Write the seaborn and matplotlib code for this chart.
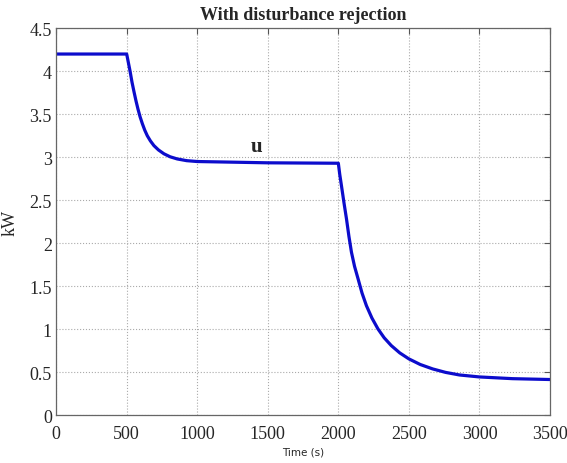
import matplotlib
matplotlib.use("Agg")
import matplotlib.pyplot as plt
import seaborn as sns
import pandas as pd

# values
time_s = [0, 500, 512, 524, 538, 552, 566, 580, 595, 611, 628, 646, 668, 693,
          725, 764, 808, 858, 925, 1000, 1500, 2000,
          2010, 2022, 2040, 2058, 2075, 2093, 2115, 2140, 2168, 2199, 2238, 2281,
          2325, 2375, 2435, 2500, 2580, 2669, 2760, 2858, 3000, 3234, 3500]
u_kw = [4.2, 4.2, 4.1, 4.0, 3.87, 3.76, 3.655, 3.56, 3.47, 3.39, 3.315, 3.25,
        3.19, 3.135, 3.085, 3.04, 3.005, 2.98, 2.96, 2.95, 2.935, 2.93,
        2.80, 2.67, 2.47, 2.28, 2.08, 1.895, 1.73, 1.585, 1.42, 1.274, 1.13, 1.003,
        0.9, 0.81, 0.725, 0.655, 0.59, 0.538, 0.498, 0.468, 0.445, 0.425, 0.415]
x_ticks = [0, 500, 1000, 1500, 2000, 2500, 3000, 3500]
y_ticks = [0, 0.5, 1, 1.5, 2, 2.5, 3, 3.5, 4, 4.5]

df = pd.DataFrame({"time": time_s, "u": u_kw})

sns.set_style("white")
plt.rcParams["font.family"] = ["Liberation Serif", "DejaVu Serif"]

fig = plt.figure(figsize=(5.67, 4.64), dpi=100)
ax = fig.add_axes([0.099, 0.103, 0.871, 0.834])

sns.lineplot(data=df, x="time", y="u", ax=ax, color="#0c0ccc", linewidth=2.3)

ax.set_xlim(0, 3500)
ax.set_ylim(0, 4.5)
ax.set_xticks(x_ticks)
ax.set_yticks(y_ticks)
ax.set_yticklabels(["0", "0.5", "1", "1.5", "2", "2.5", "3", "3.5", "4", "4.5"])
ax.tick_params(direction="in", length=4, labelsize=13, top=True, right=True,
               color="#555555")
ax.tick_params(axis="x", pad=7)
ax.tick_params(axis="y", pad=3)
ax.grid(True, linestyle=":", color="#aaaaaa", linewidth=0.8)
for s in ax.spines.values():
    s.set_color("#666666")
    s.set_linewidth(0.9)

ax.set_xlabel("Time (s)", fontsize=7.5, family="DejaVu Sans", labelpad=3)
ax.set_ylabel("kW", fontsize=13, labelpad=8)
ax.set_title("With disturbance rejection", fontsize=13, fontweight="bold", pad=7)
ax.text(1423, 3.13, "u", fontsize=15, fontweight="bold", ha="center", va="center")

fig.savefig("out.png", dpi=100)
